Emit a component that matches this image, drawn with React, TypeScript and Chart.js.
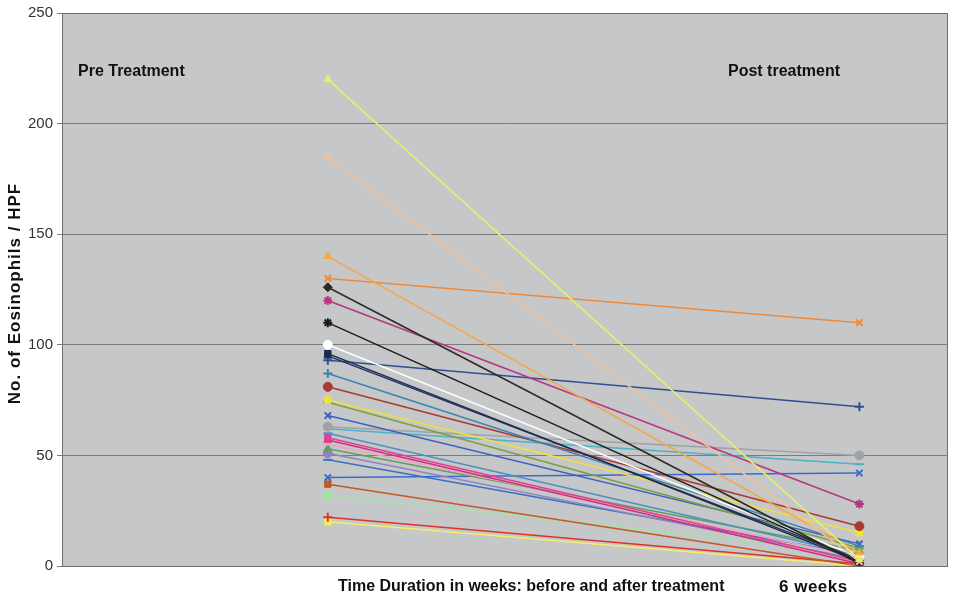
import React, { useEffect, useRef } from "react";
import { Chart, registerables } from "chart.js";

Chart.register(...registerables);

// Time positions on the x axis: before treatment, after 6 weeks
const timePoints = [1, 3];

// Eosinophils per HPF before treatment (one value per patient)
const preValues = [220, 185, 140, 130, 126, 120, 110, 100, 96, 95, 93, 87, 81, 75, 74, 68, 63, 62, 60, 58, 57, 55, 53, 51, 48, 40, 37, 32, 22, 20];
// Eosinophils per HPF after 6 weeks of treatment
const postValues = [3, 2, 6, 110, 1, 28, 2, 4, 2, 3, 72, 9, 18, 15, 8, 10, 50, 46, 5, 2, 1, 4, 7, 3, 5, 42, 0, 6, 1, 0];

const seriesColors = [
  "#e6f06c", "#f5c096", "#f5a844", "#ef8a3c", "#2b2b22", "#b8367f", "#1c1c1c", "#ffffff",
  "#1c2a4e", "#22325e", "#2f4f92", "#3b82b2", "#a83a30", "#f0e040", "#7aa040", "#3a60c0",
  "#9fa2a6", "#4ab2c8", "#5090c0", "#e24090", "#cf3080", "#f0a2c2", "#5fa05f", "#9282c2",
  "#3a70c0", "#3a6ad0", "#c05a22", "#a6e2a6", "#e03030", "#f2f060",
];
const markerStyles = [
  "triangle", "crossRot", "triangle", "crossRot", "rectRot", "star", "star", "circle",
  "rect", "triangle", "cross", "cross", "circle", "rect", "line", "crossRot",
  "circle", "line", "line", "rect", "triangle", "line", "triangle", "circle",
  "line", "crossRot", "rect", "circle", "cross", "rect",
];

const yTickValues = [0, 50, 100, 150, 200, 250];
const yAxisTitle = "No. of Eosinophils / HPF";
const preLabel = "Pre Treatment";
const postLabel = "Post treatment";
const xAxisLabel = "Time Duration in weeks: before and after treatment";
const weeksLabel = "6 weeks";

const FONT = '"Liberation Sans", Arial, sans-serif';

const backgroundPlugin = {
  id: "plotBackground",
  beforeDraw(chart: any) {
    const { ctx, chartArea } = chart;
    ctx.save();
    ctx.fillStyle = "#c5c7c9";
    ctx.fillRect(chartArea.left, chartArea.top, chartArea.right - chartArea.left, chartArea.bottom - chartArea.top);
    ctx.restore();
  },
  afterDraw(chart: any) {
    const { ctx, chartArea } = chart;
    ctx.save();
    ctx.strokeStyle = "#6e6e6e";
    ctx.lineWidth = 1;
    ctx.strokeRect(chartArea.left + 0.5, chartArea.top + 0.5, chartArea.right - chartArea.left - 1, chartArea.bottom - chartArea.top);
    ctx.font = `bold 16px ${FONT}`;
    ctx.fillStyle = "#111111";
    ctx.textBaseline = "middle";
    ctx.textAlign = "left";
    ctx.fillText(preLabel, chartArea.left + 16, chartArea.top + 59);
    ctx.fillText(postLabel, chartArea.left + 666, chartArea.top + 59);
    ctx.fillText(xAxisLabel, chartArea.left + 276, chartArea.bottom + 21);
    ctx.save();
    (ctx as any).letterSpacing = "0.5px";
    ctx.font = `bold 17px ${FONT}`;
    ctx.fillText(weeksLabel, chartArea.left + 717, chartArea.bottom + 21);
    ctx.restore();
    // rotated y axis title
    ctx.save();
    ctx.translate(15, (chartArea.top + chartArea.bottom) / 2 + 4);
    ctx.rotate(-Math.PI / 2);
    ctx.textAlign = "center";
    (ctx as any).letterSpacing = "1px";
    ctx.font = `bold 17px ${FONT}`;
    ctx.fillText(yAxisTitle, 0, 0);
    ctx.restore();
    ctx.restore();
  },
};

export default function App() {
  const canvasRef = useRef<HTMLCanvasElement | null>(null);

  useEffect(() => {
    if (!canvasRef.current) return;
    const datasets = preValues.map((pre, i) => {
      const color = seriesColors[i];
      const style = markerStyles[i];
      const filled = ["triangle", "rectRot", "circle", "rect"].includes(style);
      return {
        label: `Patient ${i + 1}`,
        data: [
          { x: timePoints[0], y: pre },
          { x: timePoints[1], y: postValues[i] },
        ],
        borderColor: color,
        backgroundColor: color,
        borderWidth: 1.5,
        pointStyle: style,
        pointRadius: 4.5,
        pointBorderWidth: filled ? 1 : 2,
        pointBackgroundColor: color,
        pointBorderColor: color,
        showLine: true,
        fill: false,
        tension: 0,
      };
    });

    const chart = new Chart(canvasRef.current, {
      type: "scatter",
      data: { datasets: datasets as any },
      options: {
        animation: false,
        responsive: true,
        maintainAspectRatio: false,
        layout: { padding: { left: 0, top: 12, right: 7, bottom: 32 } },
        plugins: { legend: { display: false }, tooltip: { enabled: false } },
        scales: {
          x: {
            type: "linear",
            min: 0,
            max: 10 / 3,
            display: false,
          },
          y: {
            type: "linear",
            min: 0,
            max: 250,
            afterBuildTicks: (scale: any) => {
              scale.ticks = yTickValues.map((v) => ({ value: v }));
            },
            afterFit: (scale: any) => {
              scale.width = 62;
            },
            ticks: {
              color: "#333333",
              font: { family: FONT, size: 15 },
              padding: 4,
            },
            grid: {
              color: "#7c7c7c",
              lineWidth: 1,
              tickLength: 5,
              drawTicks: true,
            },
            border: { display: true, color: "#6e6e6e" },
            title: { display: false },
          },
        },
      },
      plugins: [backgroundPlugin],
    });
    return () => chart.destroy();
  }, []);

  return (
    <div style={{ position: "absolute", left: 0, top: 0, width: 955, height: 598, background: "#ffffff" }}>
      <canvas ref={canvasRef} />
    </div>
  );
}
